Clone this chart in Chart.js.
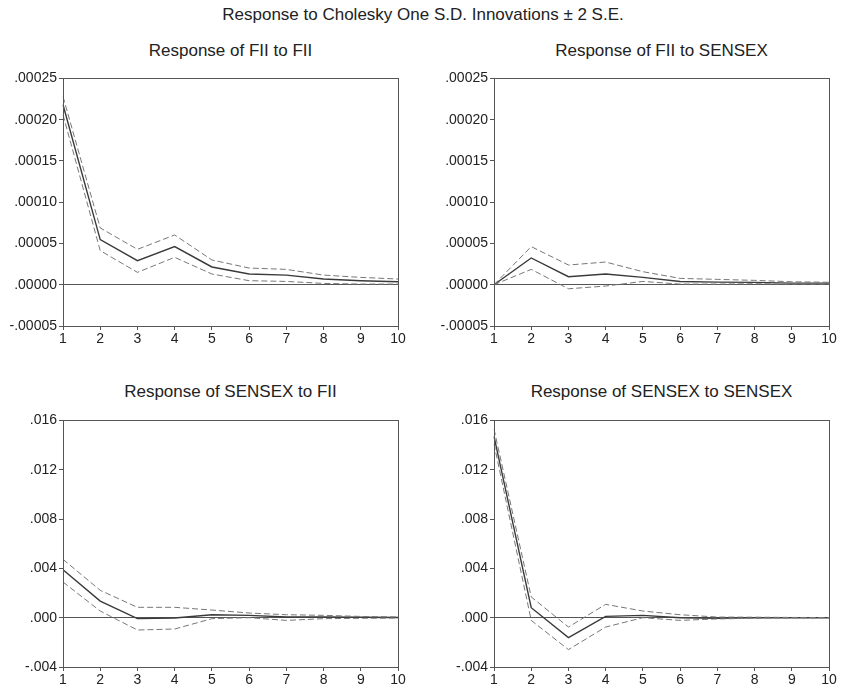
<!DOCTYPE html>
<html>
<head>
<meta charset="utf-8">
<script src="https://cdn.jsdelivr.net/npm/chart.js@4"></script>
<style>
  body { margin: 0; background: #fff; font-family: "Liberation Sans", Arial, sans-serif; }
  #wrap { position: relative; width: 846px; height: 690px; }
  .title { position: absolute; left: 0; width: 846px; top: 5px; text-align: center; font-size: 17px; color: #222; }
  .sub { position: absolute; width: 335px; text-align: center; font-size: 17px; color: #222; }
  .box { position: absolute; width: 420px; }
</style>
</head>
<body>
<div id="wrap">
  <div class="title">Response to Cholesky One S.D. Innovations ± 2 S.E.</div>
  <div class="sub" style="left:63px;top:41px">Response of FII to FII</div>
  <div class="sub" style="left:494px;top:41px">Response of FII to SENSEX</div>
  <div class="sub" style="left:63px;top:382px">Response of SENSEX to FII</div>
  <div class="sub" style="left:494px;top:382px">Response of SENSEX to SENSEX</div>
  <div class="box" style="left:0;top:68px;height:283px"><canvas id="c1"></canvas></div>
  <div class="box" style="left:431px;top:68px;height:283px"><canvas id="c2"></canvas></div>
  <div class="box" style="left:0;top:410px;height:282px"><canvas id="c3"></canvas></div>
  <div class="box" style="left:431px;top:410px;height:282px"><canvas id="c4"></canvas></div>
</div>
<script>
const periods = ["1", "2", "3", "4", "5", "6", "7", "8", "9", "10"];

// Response of FII to FII
const fiiFii = [0.000218, 0.0000547, 0.0000291, 0.0000462, 0.0000215, 0.000013, 0.0000117, 0.0000069, 0.0000049, 0.0000036];
const fiiFiiUp = [0.000228, 0.0000688, 0.0000429, 0.0000603, 0.00003, 0.0000202, 0.0000186, 0.0000117, 0.0000089, 0.0000069];
const fiiFiiLo = [0.000206, 0.0000413, 0.000015, 0.0000332, 0.000013, 0.0000049, 0.000004, 0.0000016, 0.0000008, 0.0000008];

// Response of FII to SENSEX
const fiiSen = [0, 0.0000324, 0.0000097, 0.000013, 0.0000089, 0.000004, 0.0000032, 0.0000028, 0.000002, 0.000002];
const fiiSenUp = [0, 0.0000462, 0.0000239, 0.0000275, 0.0000158, 0.0000077, 0.0000065, 0.0000053, 0.0000036, 0.000003];
const fiiSenLo = [0, 0.0000186, -0.0000049, -0.0000016, 0.000004, 0.0000008, 0.0000008, 0.0000012, 0.0000008, 0.0000008];

// Response of SENSEX to FII
const senFii = [0.00389, 0.00135, -0.00008, -0.00003, 0.00024, 0.00019, 0.00005, 0.00005, 0.00003, 0.00001];
const senFiiUp = [0.00473, 0.00222, 0.00084, 0.00084, 0.00062, 0.00038, 0.00024, 0.00019, 0.0001, 0.00006];
const senFiiLo = [0.00289, 0.00054, -0.001, -0.00092, -0.00008, 0, -0.00022, -0.00008, -0.00005, -0.00003];

// Response of SENSEX to SENSEX
const senSen = [0.0147, 0.00081, -0.00162, 0.00011, 0.00019, 0, -0.00005, 0, 0, 0];
const senSenUp = [0.0153, 0.00168, -0.00076, 0.00108, 0.00054, 0.00024, 0.00005, 0.00004, 0.00002, 0.00001];
const senSenLo = [0.0141, -0.00022, -0.00259, -0.00076, 0, -0.00022, -0.0001, -0.00005, -0.00002, -0.00001];

const topTicks = { min: -0.00005, max: 0.00025, step: 0.00005, dec: 5 };
const bottomTicks = { min: -0.004, max: 0.016, step: 0.004, dec: 3 };

const fontFam = '"Liberation Sans", Arial, sans-serif';

const frame = {
  id: 'frame',
  afterDraw(chart) {
    const a = chart.chartArea, c = chart.ctx;
    c.save();
    c.strokeStyle = '#555';
    c.lineWidth = 1;
    c.strokeRect(Math.round(a.left) + 0.5, Math.round(a.top) + 0.5, Math.round(a.right - a.left), Math.round(a.bottom - a.top));
    c.restore();
  }
};

function makeChart(id, mid, up, lo, t) {
  const band = (d) => ({
    data: d, borderColor: '#777', borderWidth: 1, borderDash: [6, 3],
    pointRadius: 0, tension: 0, fill: false
  });
  new Chart(document.getElementById(id), {
    type: 'line',
    data: {
      labels: periods,
      datasets: [
        band(up),
        band(lo),
        { data: mid, borderColor: '#3a3a3a', borderWidth: 1.4, pointRadius: 0, tension: 0, fill: false }
      ]
    },
    options: {
      responsive: true,
      maintainAspectRatio: false,
      animation: false,
      events: [],
      layout: { padding: { left: 3, right: 22, top: 10, bottom: 0 } },
      plugins: { legend: { display: false }, tooltip: { enabled: false } },
      scales: {
        x: {
          offset: false,
          grid: { drawOnChartArea: false, tickLength: 4, color: '#555' },
          border: { color: '#555' },
          ticks: { color: '#222', font: { family: fontFam, size: 14 }, padding: 1, maxRotation: 0, autoSkip: false },
          afterFit(s) { s.height = 25; }
        },
        y: {
          min: t.min, max: t.max,
          grid: {
            drawOnChartArea: true, tickLength: 4,
            color: (ctx) => Math.abs(ctx.tick.value) < 1e-12 ? '#555' : 'rgba(0,0,0,0)',
            tickColor: '#555'
          },
          border: { color: '#555' },
          ticks: {
            stepSize: t.step, color: '#222', font: { family: fontFam, size: 14 }, padding: 2,
            callback: (v) => v.toFixed(t.dec).replace('0.', '.')
          },
          afterFit(s) { s.width = 60; }
        }
      }
    },
    plugins: [frame]
  });
}

makeChart('c1', fiiFii, fiiFiiUp, fiiFiiLo, topTicks);
makeChart('c2', fiiSen, fiiSenUp, fiiSenLo, topTicks);
makeChart('c3', senFii, senFiiUp, senFiiLo, bottomTicks);
makeChart('c4', senSen, senSenUp, senSenLo, bottomTicks);
</script>
</body>
</html>
